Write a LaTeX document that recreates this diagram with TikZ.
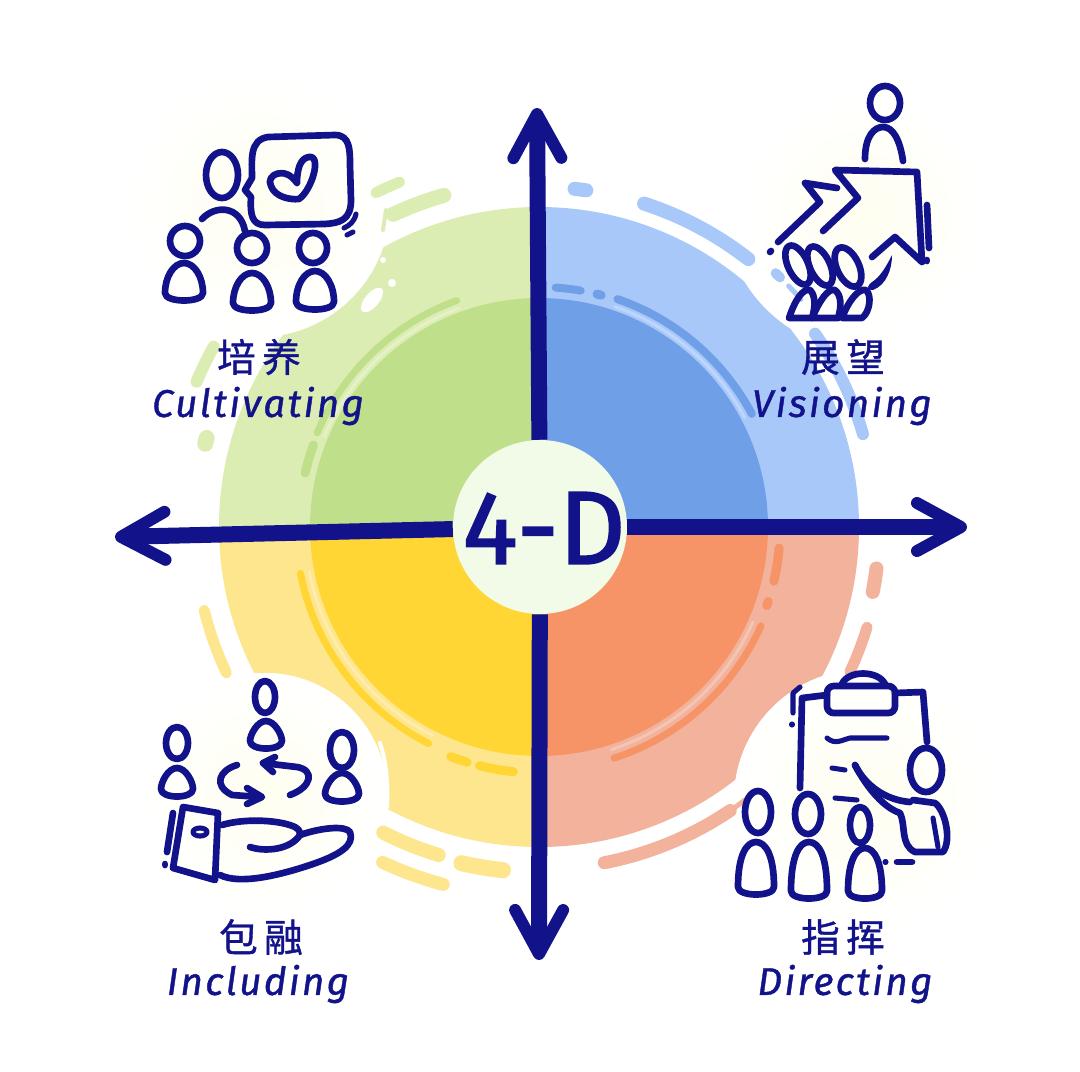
\documentclass[tikz,border=0pt]{standalone}
\usepackage{fontspec}
\usepackage{tikz}
\usetikzlibrary{arrows.meta}
\setmainfont{Fira Sans}
\newfontfamily\cjk[FakeBold=1]{Noto Sans CJK SC}
\newfontfamily\enfont[LetterSpace=6,FakeBold=1]{Fira Sans}
\newfontfamily\hubfont[FakeBold=1.5]{Fira Sans}
\definecolor{navy}{HTML}{12138A}
\definecolor{greenout}{HTML}{DCEDB4}
\definecolor{greenin}{HTML}{C0DF8A}
\definecolor{blueout}{HTML}{A9C8FA}
\definecolor{bluein}{HTML}{6F9FE6}
\definecolor{yellowout}{HTML}{FEE68F}
\definecolor{yellowin}{HTML}{FFD633}
\definecolor{orangeout}{HTML}{F2B29B}
\definecolor{orangein}{HTML}{F69468}
\definecolor{hubfill}{HTML}{F1FBE7}
\definecolor{pale}{HTML}{FEFEF0}
\tikzset{
  icon/.style={draw=navy,line width=5pt,line cap=round,line join=round},
  thin icon/.style={icon,line width=3.8pt},
  axis/.style={draw=navy,line width=12pt,-{Straight Barb[length=33pt,width=36pt,line width=9pt,round]}},
  zhlabel/.style={text=navy,font=\cjk\fontsize{29}{30}\selectfont},
  enlabel/.style={text=navy,font=\enfont\itshape\fontsize{29}{32}\selectfont},
}
% one slice of the disc
\newcommand{\slice}[4]{\fill[#1] (539,527) -- ++(#2:#4) arc[start angle=#2,end angle=#3,radius=#4] -- cycle;}
% one stroke that runs round the disc
\newcommand{\band}[5]{\draw[#1,line width=#5*0.75pt,line cap=round] (539,527) ++(#2:#4) arc[start angle=#2,end angle=#3,radius=#4];}
% body of a person
\newcommand{\bell}[4]{\draw[icon] ({#1-#3},{#4-8}) .. controls ({#1-#3},{#2+14}) and ({#1-#3*0.55},#2) .. (#1,#2) .. controls ({#1+#3*0.55},#2) and ({#1+#3},{#2+14}) .. ({#1+#3},{#4-8}) .. controls ({#1+#3},{#4+2}) and ({#1-#3},{#4+2}) .. cycle;}
\begin{document}
\begin{tikzpicture}[x=0.75pt,y=-0.75pt]
  \useasboundingbox (0,0) rectangle (1080,1071);
  \fill[white] (0,0) rectangle (1080,1071);
  % disc
  \slice{greenout}{180}{270}{320}
  \slice{blueout}{270}{360}{320}
  \slice{orangeout}{0}{90}{320}
  \slice{yellowout}{90}{180}{320}
  \slice{greenin}{180}{270}{229}
  \slice{bluein}{270}{360}{229}
  \slice{orangein}{0}{90}{229}
  \slice{yellowin}{90}{180}{229}
  % round patches behind the icons
  \fill[white] (258,205) circle (132);
  \fill[white] (870,205) circle (147);
  \fill[white] (265,795) circle (122);
  \fill[white] (865,800) circle (131);
  \shade[inner color=pale,outer color=white] (258,205) circle (132);
  \shade[inner color=pale,outer color=white] (865,215) circle (122);
  \shade[inner color=pale,outer color=white] (265,795) circle (122);
  \shade[inner color=pale,outer color=white] (865,800) circle (131);
  % strokes on the disc
  \band{greenout!75!white}{203}{250}{233}{3}
  \band{blueout!75!white}{289}{332}{233}{3}
  \band{yellowout!75!white}{117}{169}{234}{3}
  \band{orangeout!75!white}{24}{72}{234}{3}
  \band{greenin}{203}{250}{241}{7}
  \band{greenin}{193}{200}{240}{9}
  \band{bluein}{274}{280}{240}{8}
  \band{bluein}{284}{285}{240}{9}
  \band{bluein}{289}{332}{241}{8}
  \band{yellowin}{117}{169}{243}{7}
  \band{yellowin}{107}{111}{246}{9}
  \band{yellowin}{96}{104}{246}{9}
  \band{orangein}{5}{13}{241}{9}
  \band{orangein}{18}{19}{241}{9}
  \band{orangein}{24}{72}{243}{7}
  % strokes round the disc
  \band{greenout}{245}{254}{345}{15}
  \band{greenout}{244}{248}{372}{11}
  \band{greenout}{203}{209}{372}{12}
  \band{greenout}{194}{195}{344}{16}
  \draw[greenout,line width=3pt,line cap=round] (386,210) -- (383,230);
  \band{blueout}{276}{278}{340}{14}
  \band{blueout}{288}{308}{340}{14}
  \band{blueout}{313}{314}{347}{10}
  \band{blueout}{316}{319}{347}{5}
  \band{blueout}{325}{344}{337}{12}
  \band{yellowout}{155}{166}{345}{11}
  \band{yellowout}{107}{117}{343}{14}
  \band{yellowout}{105}{115}{370}{13}
  \band{yellowout}{96}{103}{345}{16}
  \band{orangeout}{7}{11}{340}{14}
  \band{orangeout}{17}{25}{343}{11}
  \band{orangeout}{56}{79}{342}{13}
  \band{orangeout}{51}{55}{342}{5}
  % small white marks
  \fill[white,rotate around={-40:(372,300)}] (372,300) ellipse (7 and 15);
  \fill[white] (392,283) circle (4);
  \fill[white] (383,260) circle (3);
  \draw[white,line width=3pt,line cap=round] (380,743) .. controls (387,765) and (388,785) .. (387,807);
  \draw[white,line width=3pt,line cap=round] (280,682) .. controls (295,682) and (305,684) .. (313,690);
  % axes and hub
  \node[circle,fill=hubfill,minimum size=130.5pt,inner sep=0pt] (hub) at (540,527) {};
  \coordinate (northtip) at (537,108);
  \coordinate (easttip) at (967,527);
  \coordinate (southtip) at (539,960);
  \coordinate (westtip) at (115,537);
  \draw[axis] (hub) -- (northtip);
  \draw[axis] (hub) -- (easttip);
  \draw[axis] (hub) -- (southtip);
  \draw[axis] (hub) -- (westtip);
  \node[text=navy,font=\hubfont\fontsize{78}{80}\selectfont,inner sep=0pt] (hubtext) at (544,528) {4-D};
  % labels
  \node[zhlabel] (cultivatingzh) at (259,357) {培\,养};
  \node[enlabel] (cultivatingen) at (258,406) {Cultivating};
  \node[zhlabel] (visioningzh) at (843,357) {展\,望};
  \node[enlabel] (visioningen) at (842,406) {Visioning};
  \node[zhlabel] (includingzh) at (261,937) {包\,融};
  \node[enlabel] (includingen) at (258,984) {Including};
  \node[zhlabel] (directingzh) at (843,937) {指\,挥};
  \node[enlabel] (directingen) at (845,984) {Directing};
  % cultivating icon
  \draw[icon] (252,178) .. controls (252,160) and (249,140) .. (268,137) -- (335,135) .. controls (350,135) and (350,150) .. (350,165) -- (351,200) .. controls (351,220) and (340,223) .. (325,224) -- (265,225) .. controls (252,225) and (250,215) .. (251,197) -- (245,190) -- cycle;
  \draw[icon] (297,183) .. controls (285,165) and (265,175) .. (271,186) .. controls (275,197) and (290,200) .. (299,199) .. controls (312,190) and (322,155) .. (309,157) .. controls (300,158) and (297,170) .. (297,183);
  \draw[icon] (222,175) ellipse (16 and 23);
  \draw[icon] (202,219) .. controls (215,205) and (240,205) .. (245,231);
  \draw[icon] (185,241) ellipse (15 and 15);
  \draw[icon] (252,248) ellipse (15 and 15);
  \draw[icon] (313,248) ellipse (14 and 15);
  \bell{184}{263}{19}{301}
  \bell{252}{273}{19}{311}
  \bell{315}{271}{19}{310}
  \draw[thin icon] (356,214) .. controls (354,222) and (350,225) .. (344,228);
  \draw[thin icon] (347,235) -- (353,232);
  % visioning icon
  \draw[icon] (885,103) ellipse (15 and 17);
  \draw[icon] (865,159) .. controls (865,135) and (875,127) .. (883,127) .. controls (893,127) and (900,140) .. (903,161);
  \draw[icon] (823,231) -- (858,198) -- (835,170) -- (917,172) -- (922,262) -- (895,237) -- (872,257);
  \draw[icon] (837,188) -- (805,183) -- (820,202) -- (778,242);
  \draw[icon] (770,252) -- (771,251);
  \draw[icon] (927,205) -- (929,248);
  \draw[icon] (927,260) -- (927,261);
  \fill[navy] (892,255) .. controls (892,270) and (886,285) .. (873,290) .. controls (865,290) and (868,285) .. (872,282) .. controls (880,277) and (886,267) .. cycle;
  \draw[icon,rotate around={25:(798,265)}] (798,265) ellipse (10 and 21);
  \draw[icon,rotate around={25:(820,266)}] (820,266) ellipse (10 and 21);
  \draw[icon,rotate around={25:(848,267)}] (848,267) ellipse (11 and 21);
  \draw[icon] (789,318) .. controls (795,300) and (803,288) .. (810,290) .. controls (815,295) and (816,305) .. (812,318) -- cycle;
  \draw[icon] (812,318) .. controls (820,300) and (828,288) .. (835,290) .. controls (841,295) and (842,305) .. (838,318) -- cycle;
  \draw[icon] (842,318) .. controls (848,302) and (858,288) .. (866,290) .. controls (872,295) and (870,312) .. (862,318) -- cycle;
  % including icon
  \draw[icon] (265,697) ellipse (10 and 16);
  \bell{266}{721}{16}{749}
  \draw[icon] (177,743) ellipse (11 and 16);
  \bell{177}{768}{16}{797}
  \draw[icon] (342,750) ellipse (12 and 18);
  \bell{342}{773}{17}{802}
  \draw[icon] (237,765) .. controls (220,770) and (212,785) .. (232,795) -- (260,797);
  \draw[icon] (247,788) -- (262,797) -- (247,804);
  \draw[icon] (290,795) .. controls (312,787) and (315,770) .. (297,767) -- (263,763);
  \draw[icon] (275,757) -- (263,763) -- (273,772);
  \draw[icon] (183,807) -- (218,813) -- (215,880) -- (173,868) -- cycle;
  \draw[thin icon] (200,832) ellipse (7 and 4);
  \draw[icon] (222,825) .. controls (245,818) and (280,820) .. (295,827) .. controls (300,830) and (300,832) .. (300,835) .. controls (320,828) and (345,825) .. (350,832) .. controls (355,845) and (340,855) .. (310,865) .. controls (280,875) and (240,885) .. (220,875);
  \draw[icon] (250,847) .. controls (265,852) and (290,850) .. (300,835);
  \draw[icon] (173,813) -- (167,852);
  \draw[icon] (165,864) -- (165,865);
  % directing icon
  \draw[icon] (800,788) -- (802,698) -- (827,695);
  \draw[icon,rounded corners=5pt] (827,686) rectangle (895,713);
  \draw[icon] (895,693) -- (923,692) -- (927,742);
  \draw[icon] (842,684) .. controls (848,670) and (878,670) .. (885,684);
  \draw[thin icon] (827,738) .. controls (835,745) and (842,740) .. (850,738) -- (887,738);
  \draw[thin icon] (832,768) -- (845,770);
  \draw[thin icon] (835,798) -- (857,800);
  \draw[thin icon] (800,687) -- (793,693) -- (793,713);
  \draw[thin icon] (792,724) -- (792,725);
  \draw[icon] (926,770) ellipse (16 and 22);
  \draw[icon] (855,765) .. controls (865,785) and (885,800) .. (910,802);
  \draw[icon] (855,765) .. controls (868,790) and (885,808) .. (900,813) .. controls (906,825) and (900,845) .. (915,852) -- (943,852) .. controls (952,840) and (945,810) .. (935,803) -- (913,800);
  \draw[thin icon] (933,818) -- (938,847);
  \draw[thin icon] (885,862) -- (886,862);
  \draw[icon] (897,862) -- (912,862);
  \draw[icon] (758,812) ellipse (13 and 21);
  \draw[icon] (808,814) ellipse (13 and 20);
  \draw[icon] (860,825) ellipse (10 and 18);
  \bell{756}{842}{18}{895}
  \bell{809}{842}{18}{899}
  \bell{865}{848}{17}{899}
\end{tikzpicture}
\end{document}
